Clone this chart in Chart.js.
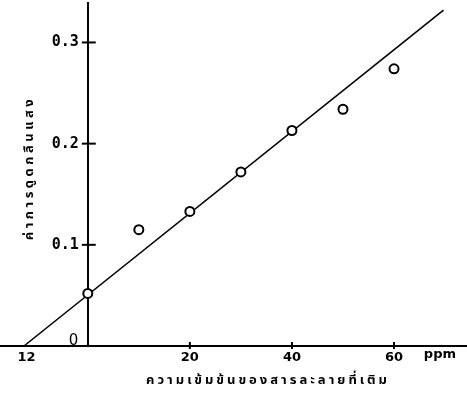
<!DOCTYPE html>
<html>
<head>
<meta charset="utf-8">
<script src="https://cdn.jsdelivr.net/npm/chart.js@4"></script>
<style>
  html, body { margin: 0; padding: 0; background: #fff; }
  #wrap { width: 467px; height: 414px; }
</style>
</head>
<body>
<div id="wrap"><canvas id="chart"></canvas></div>
<script>
// added concentration (ppm) vs absorbance, standard addition plot
const concPpm = [0, 10, 20, 30, 40, 50, 60];
const absorbance = [0.052, 0.115, 0.133, 0.172, 0.213, 0.234, 0.274];

// drawn straight line (two end points)
const fitX = [-12.5, 69.7];
const fitY = [0, 0.332];

const xTickValues = [-12, 20, 40, 60];
const xTickLabels = ["12", "20", "40", "60"];
const yTickValues = [0.1, 0.2, 0.3];
const yTickLabels = ["0.1", "0.2", "0.3"];

const xTitle = "ความเข้มข้นของสารละลายที่เติม";
const yTitle = "ค่าการดูดกลืนแสง";
const xUnit = "ppm";
const originLabel = "0";

const thaiFont = "'Noto Sans Thai', 'Loma', 'Garuda', 'Norasi', 'Waree', 'DejaVu Sans', sans-serif";

const extras = {
  id: "extras",
  afterDraw(chart) {
    const ctx = chart.ctx;
    const xs = chart.scales.x;
    const ys = chart.scales.y;
    const x0 = xs.getPixelForValue(0);
    const yAxis = ys.getPixelForValue(0);

    ctx.save();
    ctx.strokeStyle = "#000";
    ctx.lineWidth = 2;
    // tick marks crossing the axes
    xTickValues.forEach(v => {
      if (v < 0) return;
      const px = xs.getPixelForValue(v);
      ctx.beginPath();
      ctx.moveTo(px, yAxis - 4);
      ctx.lineTo(px, yAxis + 3);
      ctx.stroke();
    });
    yTickValues.forEach(v => {
      const py = ys.getPixelForValue(v);
      ctx.beginPath();
      ctx.moveTo(x0 - 6, py);
      ctx.lineTo(x0 + 8, py);
      ctx.stroke();
    });

    ctx.fillStyle = "#000";
    ctx.font = "15px 'DejaVu Sans', sans-serif";
    ctx.textAlign = "center";
    ctx.textBaseline = "alphabetic";
    ctx.fillText(originLabel, xs.getPixelForValue(-2.8), yAxis - 1);

    ctx.font = "bold 13px 'DejaVu Sans', sans-serif";
    ctx.textBaseline = "top";
    ctx.fillText(xUnit, xs.getPixelForValue(69), yAxis + 2);

    // x title
    ctx.font = "bold 13px " + thaiFont;
    ctx.letterSpacing = "3px";
    ctx.textBaseline = "middle";
    ctx.fillText(xTitle, 268, 381);

    // y title, rotated
    ctx.letterSpacing = "3.5px";
    ctx.translate(30, 168);
    ctx.rotate(-Math.PI / 2);
    ctx.fillText(yTitle, 0, 0);
    ctx.restore();
  }
};

new Chart(document.getElementById("chart"), {
  type: "scatter",
  data: {
    datasets: [
      {
        label: "measured",
        data: concPpm.map((c, i) => ({ x: c, y: absorbance[i] })),
        pointStyle: "circle",
        pointRadius: 4.5,
        pointBorderWidth: 2,
        pointBorderColor: "#000",
        pointBackgroundColor: "#fff",
        showLine: false
      },
      {
        label: "line",
        data: fitX.map((x, i) => ({ x, y: fitY[i] })),
        showLine: true,
        borderColor: "#000",
        borderWidth: 1.6,
        pointRadius: 0,
        clip: false
      }
    ]
  },
  options: {
    responsive: true,
    maintainAspectRatio: false,
    animation: false,
    events: [],
    layout: { autoPadding: false, padding: { top: 3, left: 0, right: 0, bottom: 0 } },
    plugins: { legend: { display: false }, tooltip: { enabled: false } },
    scales: {
      x: {
        type: "linear",
        position: "bottom",
        min: -17.2,
        max: 74.3,
        grid: { display: false, drawTicks: false },
        border: { display: true, color: "#000", width: 2 },
        afterBuildTicks: s => { s.ticks = xTickValues.map(v => ({ value: v })); },
        afterFit: s => { s.height = 68; s.paddingLeft = 0; s.paddingRight = 0; },
        ticks: {
          autoSkip: false,
          maxRotation: 0,
          padding: 4,
          color: "#000",
          font: { family: "'DejaVu Sans', sans-serif", size: 13, weight: "bold" },
          callback: (v, i) => xTickLabels[i]
        }
      },
      y: {
        type: "linear",
        position: { x: 0 },
        min: 0,
        max: 0.339,
        grid: { display: false, drawTicks: false },
        border: { display: true, color: "#000", width: 2 },
        afterBuildTicks: s => { s.ticks = yTickValues.map(v => ({ value: v })); },
        afterFit: s => { s.paddingTop = 0; s.paddingBottom = 0; },
        ticks: {
          autoSkip: false,
          padding: 6,
          color: "#000",
          font: { family: "'DejaVu Sans Mono', monospace", size: 15, weight: "bold" },
          // trailing space keeps the label clear of the axis tick
          callback: (v, i) => yTickLabels[i] + " "
        }
      }
    }
  },
  plugins: [extras]
});
</script>
</body>
</html>
